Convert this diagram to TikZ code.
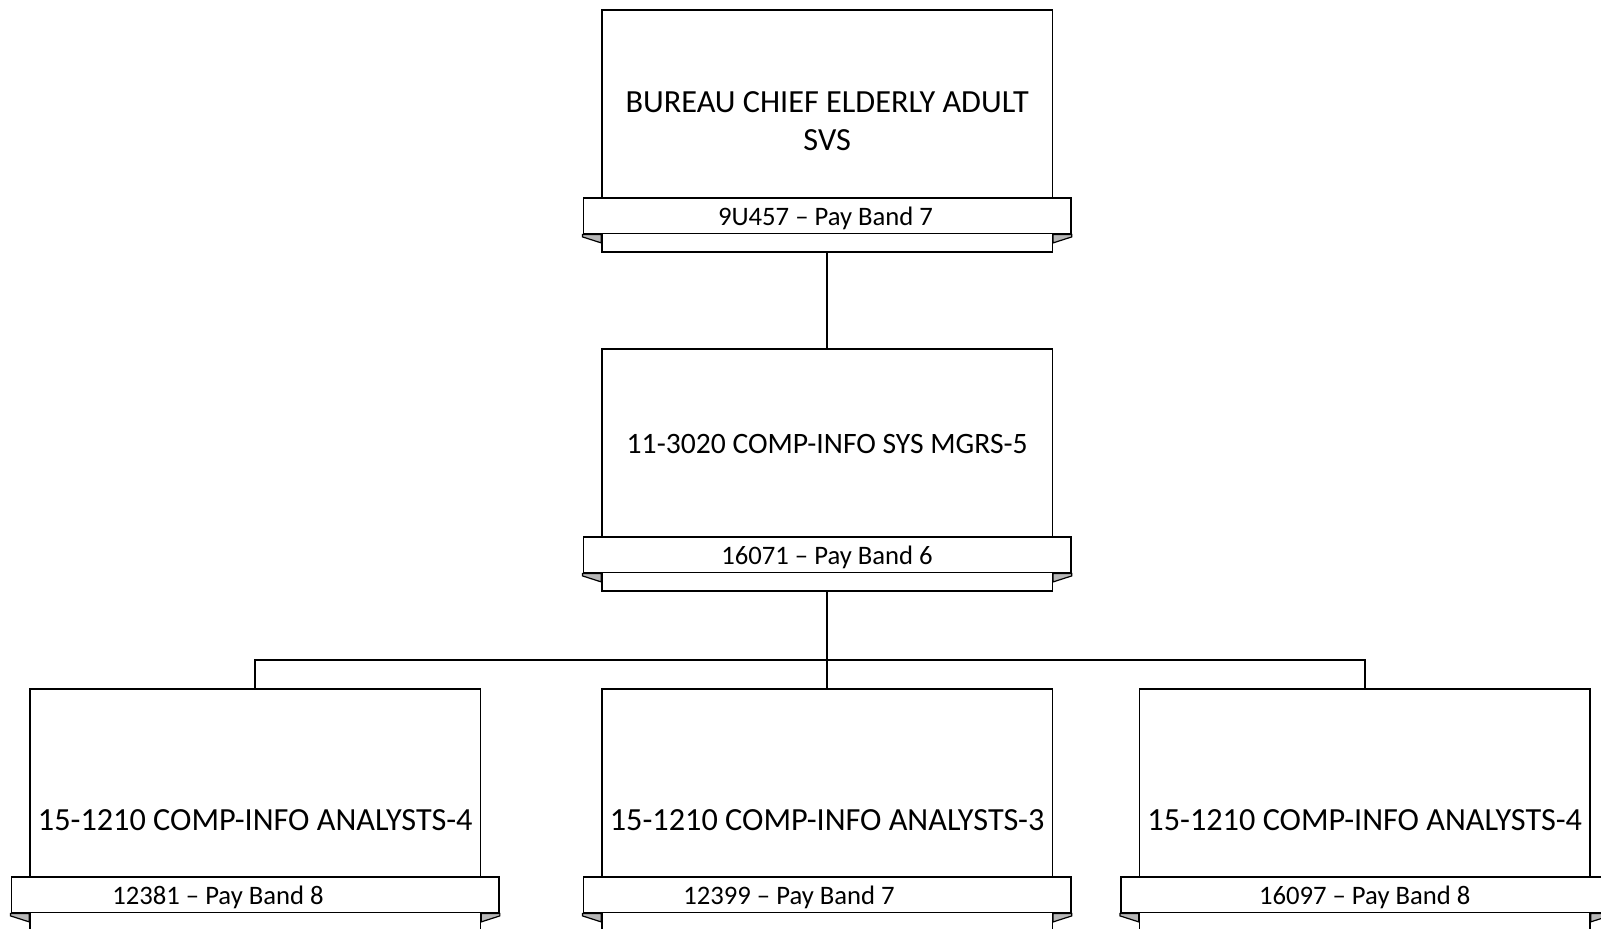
\documentclass[tikz,border=0pt]{standalone}
\usepackage{fontspec}
\setmainfont{Carlito}
\usetikzlibrary{calc}
\tikzset{
  posbox/.style={draw=black, line width=1.2pt, fill=white, rectangle, inner sep=0pt,
    minimum width=450.3*0.75pt, minimum height=242*0.75pt, anchor=north},
  ribbon/.style={draw=black, line width=1.2pt, fill=white, rectangle, inner sep=0pt,
    minimum width=487.7*0.75pt, minimum height=35.4*0.75pt, anchor=north},
  fold/.style={draw=black, line width=0.9pt, fill=black!28},
  maintext/.style={font=\fontsize{24.2}{28.5}\selectfont, align=center, inner sep=0pt},
  smalltext/.style={font=\fontsize{22.2}{26}\selectfont, align=center, inner sep=0pt},
  bandtext/.style={font=\fontsize{20}{22}\selectfont, inner sep=0pt, anchor=base},
  link/.style={draw=black, line width=1.6pt}
}
% #1 name, #2 centre x, #3 top y, #4 text style and position, #5 text, #6 ribbon label x, #7 ribbon label
\newcommand\orgunit[7]{%
  \node[posbox] (#1) at (#2,#3) {};
  \node[ribbon] (#1r) at (#2,#3+188.4) {};
  \path[fold] (#1r.south west) -- ++(0,2.5) -- ($(#1.west |- #1r.south)+(0,8.5)$) -- (#1.west |- #1r.south) -- cycle;
  \path[fold] (#1r.south east) -- ++(0,2.5) -- ($(#1.east |- #1r.south)+(0,8.5)$) -- (#1.east |- #1r.south) -- cycle;
  \node[#4] (#1t) {#5};
  \node[bandtext] (#1b) at (#6,#3+216.4) {#7};
}
\begin{document}
\begin{tikzpicture}[x=0.75pt,y=-0.75pt]
\useasboundingbox (0,0) rectangle (1601,928);
\clip (0,0) rectangle (1601,928);
\orgunit{chief}{827.15}{9}{maintext, at={(827.15,121.5)}}{BUREAU CHIEF ELDERLY ADULT\\SVS}{825.5}{9U457 -- Pay Band 7}
\orgunit{mgr}{827.15}{348}{smalltext, anchor=base, at={(827.15,453.5)}}{11-3020 COMP-INFO SYS MGRS-5}{827}{16071 -- Pay Band 6}
\orgunit{anA}{255.2}{688}{maintext, anchor=base, at={(255.2,830.7)}}{15-1210 COMP-INFO ANALYSTS-4}{218}{12381 -- Pay Band 8}
\orgunit{anB}{827.15}{688}{maintext, anchor=base, at={(827.15,830.7)}}{15-1210 COMP-INFO ANALYSTS-3}{789}{12399 -- Pay Band 7}
\orgunit{anC}{1364.7}{688}{maintext, anchor=base, at={(1364.7,830.7)}}{15-1210 COMP-INFO ANALYSTS-4}{1364.7}{16097 -- Pay Band 8}
\coordinate (bus) at (827.15,660);
\draw[link] (chief.south) -- (mgr.north);
\draw[link] (mgr.south) -- (bus);
\draw[link] (bus) -| (anA.north);
\draw[link] (bus) -| (anC.north);
\draw[link] (bus) -- (anB.north);
\end{tikzpicture}
\end{document}
